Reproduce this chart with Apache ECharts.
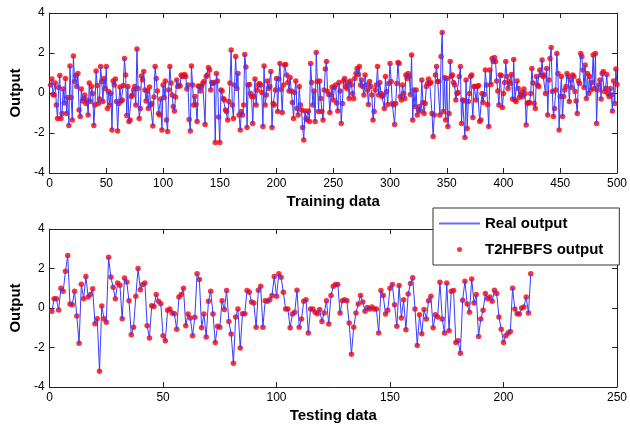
<!DOCTYPE html>
<html>
<head>
<meta charset="utf-8">
<script src="https://cdn.jsdelivr.net/npm/echarts@6/dist/echarts.min.js"></script>
<style>
html,body{margin:0;padding:0;background:#fff;}
#chart{width:630px;height:425px;}
</style>
</head>
<body>
<div id="chart"></div>
<script>
// training data, 500 samples
var trainingOutput = [
  0.4, 0.7, -0.07, -0.1, 0.5, -0.6, -1.27, 0.27, 0.87, -1.27,
  -1.02, 0.2, -0.5, 0.73, -1.02, -0.23, -1.63, 1.35, -0.23, -1.35,
  1.85, 0.57, 0.87, 0.32, 0.98, -0.85, -1.18, 0.2, -0.4, -0.27,
  -0.1, -0.52, -0.35, -1.1, 0.5, -0.43, 0.32, -0.02, -1.63, -0.6,
  1.1, 0.37, -0.52, -0.3, 1.32, 0.57, -0.43, 0.73, 0.23, 1.32,
  -0.77, 0.07, -0.6, -0.02, -1.85, 0.6, 0.4, 0.7, -0.43, -1.9,
  -0.52, 0.3, -0.4, -0.35, 0.37, 1.73, 0.9, -1.13, 0.32, -1.43,
  -1.35, -0.18, -0.1, 0.15, 0.32, -0.6, 2.2, 0.23, -1.27, -0.77,
  0.85, 0.65,
  1.07, 0.15, -0.4, 0.1, -0.77, 0.3, -0.6, -0.52, -1.65, -0.2,
  1.32, 0.73, 0.1, -1.02, -1.1, -0.3, -1.85, 0.4, -0.23, 0.6,
  -1.35, -1.93, 0.15, 1.32, 0.5, -0.1, -0.68, -0.9, -0.2, 0.65,
  0.32, 0.4, 0.35, 0.9, 0.82, 0.85, 0.93, 0.82, 0.2, 0.4,
  -1.32, -1.9, 1.35, 0.4, -0.6, -0.18, -0.57, -1.43, 0.35, 0.32,
  0.1, 0.32, 0.48, 0.57, -1.57, 0.82, 0.9, 1.28, 1.15, 0.15,
  0.53, 0.48, 0.53, -2.47, 0.98, 0.6, -1.2, -2.47, 0.15, 0.1,
  -0.27, -0.35, -0.85, -0.93, -1.35, -0.43, 0.5, 2.15, -0.6, -1.27,
  0.4, 1.82, 0.23, 0.98, -1.1, -1.85, -0.93, -1.1, -0.6, 1.93,
  1.3,
  -1.73, 0.4, 0.43, -0.02, -0.18, -1.52, -0.18, 0.7, -0.6, 0.15,
  0.4, 0.48, 0.4, 0.03, -1.68, 1.35, -0.6, -0.1, 0.6, 0.23,
  0.32, 1.07, -1.73, -0.52, -0.6, 0.15, 0.73, -0.93, 0.7, 1.48,
  0.18, -0.97, 0.4, 1.4, 1.43, 0.9, 0.53, 0.1, 0.77, 0.1,
  -0.47, -1.27, 0.03, 0.6, -0.77, -1.1, 0.32, -0.6, -0.85, -1.73,
  -2.35, -0.9, -1.27, -1.35, -0.9, -1.43, 1.48, 0.53, -0.6, 0.1,
  -1.43, 2.03, 0.57, -0.93, 0.6, -0.27, -0.93, -1.35, 0.15, 1.2,
  1.57, 0.07, -0.07, -0.97, -0.1, 0.3, -0.35, 0.27, 0.4, -0.5,
  -0.9, 0.53, 0.1, -1.52, -0.52, 0.6, 0.73,
  0.32, 0.23, 0.53, -0.27, 0.6, 0.4, -0.02, -0.27, 0.73, 0.98,
  1.23, 0.93, 1.32, 0.4, 0.65, 0.32, -0.1, 0.9, 0.4, 0.15,
  -0.57, 0.57, 0.32, -0.1, -1.35, -0.93, 0.15, 0.4, 1.32, -0.1,
  0.53, -0.02, -0.18, -0.1, -0.77, 0.82, 0.07, -0.57, 0.48, 1.48,
  0.57, -0.52, -0.6, -1.57, -0.52, 0.48, 1.53, 1.48, -0.18, -0.35,
  0.4, -0.02, -0.27, 0.9, 0.73, 0.98, 0.82, -0.07, 1.9, -1.35,
  0.15, -0.68, 0.15, -1.1, -0.85, -0.68, -0.9, 0.65, -0.47, -1.02,
  -0.52, 0.32, 0.48, 0.7, 0.48, 0.53, -1.02, -2.18, -1.1, 0.9,
  1.32, 0.57, 0.57, -1.1, 1.82, 3.03,
  -0.93, 0.77, -1.35, 0.73, -1.68, -1.02, 1.57, 0.82, 0.9, 0.53,
  0.4, -0.35, -0.02, 0.03, 0.82, 1.32, -1.52, -0.35, -0.4, -2.23,
  0.65, -1.77, -0.43, -0.02, 0.82, 0.9, -1.23, 0.32, 0.32, -0.35,
  0.32, 0.37, -1.43, -1.35, -0.02, -0.47, -0.07, 1.15, 0.4, -0.57,
  -1.68, 1.15, 0.43, 1.73, 1.57, 1.77, 1.57, 0.6, 0.1, -0.6,
  0.9, 0.87, -0.73, -0.02, 0.52, 1.57, 0.82, 0.23, 0.57, 0.48,
  0.93, -0.3, 1.68, -0.35, -0.43, 0.6, 0.23, -0.23, -0.07, 0.03,
  -0.18, 0.2, -0.02, -1.6, -0.52, -0.47, -0.47, -0.02, 1.23, 0.5,
  -0.52, -0.77, 0.82, 0.4, 0.32, 1.15, 0.9, 1.65, 0.82,
  0.9, -0.02, 1.23, -1.1, 0.65, 1.73, 2.27, 0.07, -1.18, -0.77,
  0.15, 1.98, 0.98, -1.85, -0.18, 0.82, -1.18, -0.18, 0.15, 0.32,
  0.98, 0.82, -0.43, 0.65, 0.27, 0.9, 0.82, 0.07, -0.4, -1.02,
  0.6, 0.48, 1.98, 1.82, 1.15, 0.27, 1.4, -0.27, 0.98, -0.02,
  0.82, 0.15, 0.53, 1.9, 0.23, 1.98, -1.52, 0.15, 0.4, 0.65,
  -0.3, 0.98, 1.07, 0.07, 0.23, 0.93, -0.02, -0.18, 0.23, -0.1,
  -0.9, 0.6, -0.52, 1.2, 0.43
];

// testing data, 212 samples
var testingOutput = [
  -0.17, 0.47, 0.47, -0.1, 1.0, 0.85, 1.86, 2.66, 0.2, 0.17,
  0.85, -0.4, -1.78, 1.2, 0.47, 1.6, 0.56, 0.68, 0.97, -0.8,
  -0.55, -3.2, 0.1, -0.55, -0.72, 2.57, 1.57, 1.05, 0.47, 1.27,
  1.15, -0.55, 1.52, 1.32, 0.37, -1.35, -0.98, 0.6, 2.0, 0.93,
  1.19, 1.27, -0.9, -1.52, 0.12, 0.08, 0.68, 0.34, 0.22, -1.4,
  -1.66, -0.12, -0.05, -0.25, -0.29, -1.07, 0.56, 0.68, 1.0, -0.9,
  -0.3, -0.5, -1.4, -0.47, 1.73, 1.44, -1.0, -0.3, -1.47, 0.34,
  0.85, -0.3, -1.75, -0.93, -0.97, 0.37, -0.08, 0.88, -0.68, -1.32,
  -2.8, -0.46, -0.05, -2.03, -0.29, -0.29, 0.88, 0.8, 0.3, 0.25,
  -0.98, 0.9, 1.1, -0.97, 0.37, 0.34, 0.42, 0.63, 1.6, 0.59,
  1.73, 1.56, 0.8, -0.05, -0.05, -1.0, -0.3, -0.22, 0.9, -0.97,
  -0.56, 0.34, 0.42, -1.27, -0.05, -0.05, -0.22, -0.29, -0.08, -0.68,
  -0.25, 0.37, -0.81, 0.63, 1.1, 1.19, 1.19, -0.25, 0.37, 0.42,
  0.37, -0.76, -2.34, -0.97, -0.25, 0.2, 0.63, 0.3, -0.17, 0.03,
  -0.05, 0.05, -0.05, -0.05, -1.27, 0.88, 0.63, -0.3, -0.12, 1.0,
  1.19, 0.17, -0.93, 1.14, -0.5, 0.42, -1.1, 0.71, 1.24, 1.53,
  -0.05, -1.9, -0.34, -1.3, -0.08, -0.56, 0.37, 0.6, -1.0, -0.34,
  -0.46, 1.3, -0.56, -1.27, 1.27, -1.15, 0.85, 0.88, -1.75, -1.66,
  -2.29, 0.39, 1.36, 0.2, -0.22, 1.47, 0.25, 0.68, -1.44, -0.56,
  -0.12, 0.73, 0.47, 0.56, 0.34, 0.9, 0.73, -0.46, -1.07, -1.75,
  -1.4, -1.27, -1.19, 1.0, -0.05, -0.29, -0.3, 0.0, 0.05, 0.56,
  -0.25, 1.73
];

var yTicks = [-4, -2, 0, 2, 4];
var trainAxis = { min: 0, max: 500, interval: 50 };
var testAxis = { min: 0, max: 250, interval: 50 };

var FONT = "'Liberation Sans', Arial, sans-serif";
var LINE_COLOR = '#3a3aff';
var DOT_COLOR = '#ff0000';

function toPoints(arr) {
  return arr.map(function (v, i) { return [i + 1, v]; });
}

function xAxes(grid, range, name) {
  var base = {
    type: 'value', gridIndex: grid,
    min: range.min, max: range.max, interval: range.interval,
    axisLine: { show: true, onZero: false, lineStyle: { color: '#222', width: 1 } },
    axisTick: { show: true, inside: true, length: 5, lineStyle: { color: '#222' } },
    splitLine: { show: false }
  };
  var bottom = Object.assign({}, base, {
    position: 'bottom',
    name: name, nameLocation: 'middle', nameGap: 21,
    nameTextStyle: { fontFamily: FONT, fontWeight: 'bold', fontSize: 15, color: '#000' },
    axisLabel: { margin: 5, fontFamily: FONT, fontSize: 12, color: '#000' }
  });
  var top = Object.assign({}, base, { position: 'top', axisLabel: { show: false } });
  return [bottom, top];
}

function yAxes(grid) {
  var base = {
    type: 'value', gridIndex: grid,
    min: yTicks[0], max: yTicks[yTicks.length - 1], interval: yTicks[1] - yTicks[0],
    axisLine: { show: true, onZero: false, lineStyle: { color: '#222', width: 1 } },
    axisTick: { show: true, inside: true, length: 5, lineStyle: { color: '#222' } },
    splitLine: { show: false }
  };
  var left = Object.assign({}, base, {
    position: 'left',
    name: 'Output', nameLocation: 'middle', nameGap: 25,
    nameTextStyle: { fontFamily: FONT, fontWeight: 'bold', fontSize: 15, color: '#000' },
    axisLabel: { margin: 5, fontFamily: FONT, fontSize: 12, color: '#000' }
  });
  var right = Object.assign({}, base, { position: 'right', axisLabel: { show: false } });
  return [left, right];
}

var chart = echarts.init(document.getElementById('chart'), null, { renderer: 'canvas' });

var option = {
  animation: false,
  backgroundColor: '#fff',
  grid: [
    { left: 46, right: 11, top: 13, height: 160 },
    { left: 46, right: 10, top: 229, height: 158 }
  ],
  xAxis: xAxes(0, trainAxis, 'Training data').concat(xAxes(1, testAxis, 'Testing data')),
  yAxis: yAxes(0).concat(yAxes(1)),
  legend: {
    orient: 'vertical',
    left: 433, top: 208,
    backgroundColor: '#fff',
    borderColor: '#333', borderWidth: 1,
    padding: [8, 16, 8, 6],
    itemWidth: 41, itemHeight: 5, itemGap: 11,
    textStyle: { fontFamily: FONT, fontWeight: 'bold', fontSize: 15, color: '#000' },
    data: [
      { name: 'Real output', icon: 'path://M0,0L41,0L41,2L0,2Z', itemStyle: { color: '#6a6aff' } },
      { name: 'T2HFBFS output', icon: 'circle', itemStyle: { color: DOT_COLOR } }
    ]
  },
  series: [
    {
      name: 'Real output', type: 'line', xAxisIndex: 0, yAxisIndex: 0,
      data: toPoints(trainingOutput), symbol: 'none',
      lineStyle: { color: LINE_COLOR, width: 1 }, itemStyle: { color: LINE_COLOR }
    },
    {
      name: 'T2HFBFS output', type: 'scatter', xAxisIndex: 0, yAxisIndex: 0,
      data: toPoints(trainingOutput), symbolSize: 5.5,
      itemStyle: { color: DOT_COLOR }
    },
    {
      name: 'Real output', type: 'line', xAxisIndex: 2, yAxisIndex: 2,
      data: toPoints(testingOutput), symbol: 'none',
      lineStyle: { color: LINE_COLOR, width: 1 }, itemStyle: { color: LINE_COLOR }
    },
    {
      name: 'T2HFBFS output', type: 'scatter', xAxisIndex: 2, yAxisIndex: 2,
      data: toPoints(testingOutput), symbolSize: 5.5,
      itemStyle: { color: DOT_COLOR }
    }
  ]
};

chart.setOption(option);
</script>
</body>
</html>
